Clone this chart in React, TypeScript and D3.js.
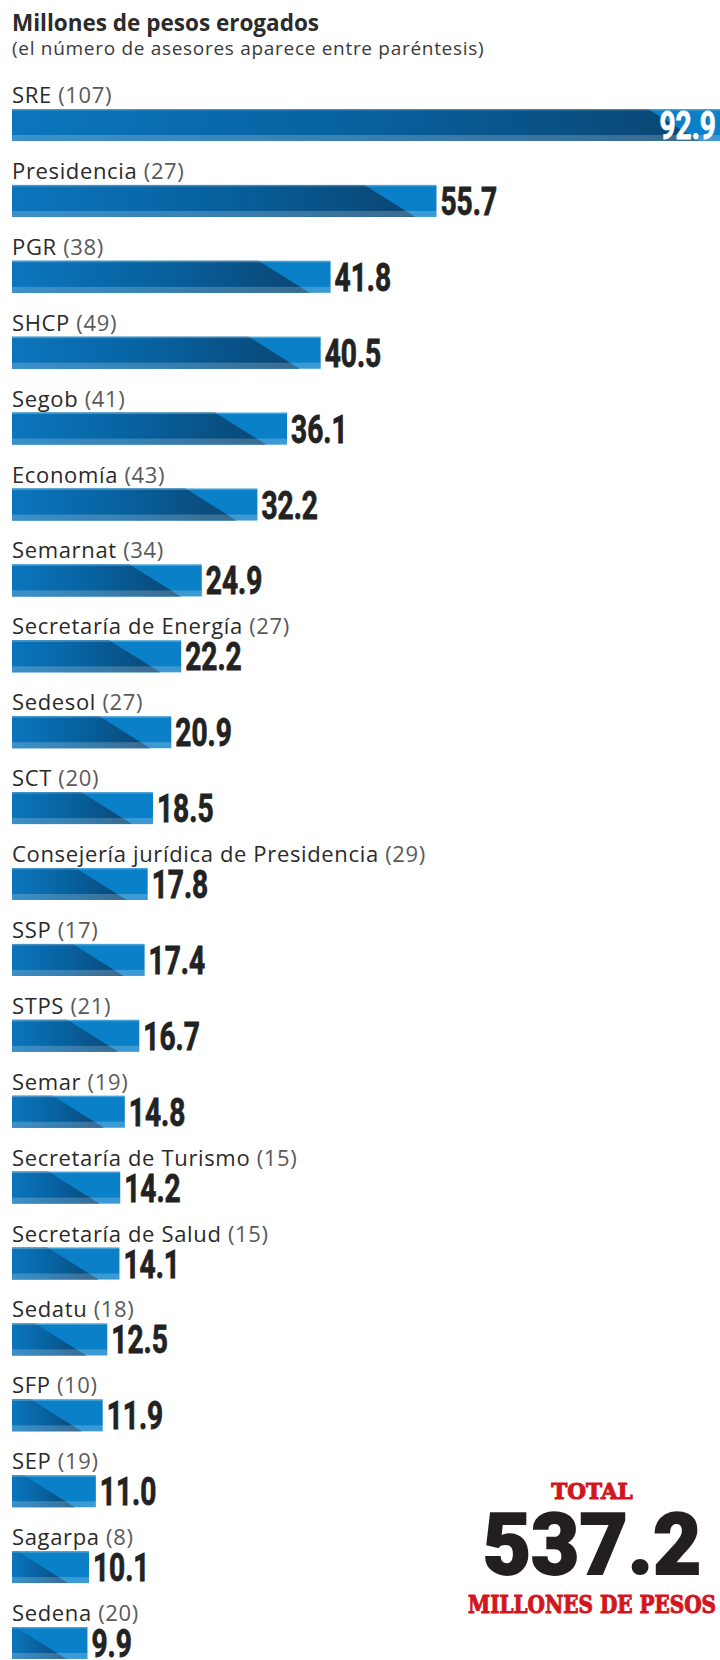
import React, { useLayoutEffect } from "react";
import * as d3 from "d3";

const categories = [
  "SRE", "Presidencia", "PGR", "SHCP", "Segob", "Economía", "Semarnat",
  "Secretaría de Energía", "Sedesol", "SCT", "Consejería jurídica de Presidencia",
  "SSP", "STPS", "Semar", "Secretaría de Turismo", "Secretaría de Salud",
  "Sedatu", "SFP", "SEP", "Sagarpa", "Sedena",
];
const advisors = [107, 27, 38, 49, 41, 43, 34, 27, 27, 20, 29, 17, 21, 19, 15, 15, 18, 10, 19, 8, 20];
const amounts = [92.9, 55.7, 41.8, 40.5, 36.1, 32.2, 24.9, 22.2, 20.9, 18.5, 17.8, 17.4, 16.7, 14.8, 14.2, 14.1, 12.5, 11.9, 11.0, 10.1, 9.9];

const title = "Millones de pesos erogados";
const subtitle = "(el número de asesores aparece entre paréntesis)";
const totalLabel = "TOTAL";
const totalValue = "537.2";
const totalUnit = "MILLONES DE PESOS";

const W = 720;
const H = 1660;
const X0 = 12;
const BAR_H = 32;
const TOP = 109;
const STEP = 75.9;

export default function App() {
  useLayoutEffect(() => {
    document.body.style.margin = "0";
  }, []);

  const x = d3.scaleLinear().domain([0, d3.max(amounts) as number]).range([X0, W]);
  const y = d3
    .scaleBand<string>()
    .domain(categories)
    .range([TOP, TOP + STEP * categories.length])
    .padding(0);

  const labelFont = "'Open Sans', 'DejaVu Sans', sans-serif";
  const numFont = "Roboto, 'Liberation Sans', sans-serif";
  const slabFont = "'DejaVu Serif', serif";

  return (
    <svg width={W} height={H} viewBox={`0 0 ${W} ${H}`} style={{ display: "block", background: "#fff" }}>
      <defs>
        <linearGradient id="dark" x1="0" x2="1" y1="0" y2="0">
          <stop offset="0" stopColor="#0b76bd" />
          <stop offset="0.5" stopColor="#07619f" />
          <stop offset="1" stopColor="#0a4673" />
        </linearGradient>
      </defs>
      <text x={X0} y={31} fontFamily={labelFont} fontWeight={700} fontSize={22.5} fill="#2b2b2b">
        {title}
      </text>
      <text x={X0} y={55} fontFamily={labelFont} fontSize={19} letterSpacing={0.7} fill="#3a3a3a">
        {subtitle}
      </text>

      {categories.map((c, i) => {
        const top = y(c) as number;
        const end = x(amounts[i]);
        const bottom = top + BAR_H;
        const xt = Math.max(X0, end - 72);
        const xb = Math.max(X0 + 20, end - 21);
        const inside = i === 0;
        return (
          <g key={c}>
            <text x={X0} y={top - 6} fontFamily={labelFont} fontSize={22} letterSpacing={0.65}>
              <tspan fill="#2a2a2a">{c}</tspan>
              <tspan fill="#5a5a5a">{` (${advisors[i]})`}</tspan>
            </text>
            <rect x={X0} y={top} width={end - X0} height={BAR_H} fill="#0a80c8" />
            <path
              d={`M${X0},${top}L${xt},${top}L${xb},${bottom}L${X0},${bottom}Z`}
              fill="url(#dark)"
            />
            <rect x={X0} y={bottom - 6} width={end - X0} height={6} fill="#ffffff" opacity={0.2} />
            <rect x={X0} y={top} width={end - X0} height={1.5} fill="#ffffff" opacity={0.25} />
            <g transform={`translate(${inside ? end - 4 : end + 4},${bottom - 2}) scale(0.74,1)`}>
              <text
                x={0}
                y={0}
                textAnchor={inside ? "end" : "start"}
                fontFamily={numFont}
                fontWeight={700}
                fontSize={38}
                stroke={inside ? "#ffffff" : "#222222"}
                strokeWidth={0.8}
                fill={inside ? "#ffffff" : "#222222"}
              >
                {amounts[i].toFixed(1)}
              </text>
            </g>
          </g>
        );
      })}

      <g transform="translate(592,1499) scale(0.98,1)">
        <text textAnchor="middle" fontFamily={slabFont} fontWeight={700} fontSize={22}
          stroke="#d3161e" strokeWidth={1.1} fill="#d3161e">
          {totalLabel}
        </text>
      </g>
      <g transform="translate(592,1574) scale(0.97,1)">
        <text textAnchor="middle" fontFamily={numFont} fontWeight={900} fontSize={86}
          stroke="#231f20" strokeWidth={1.8} fill="#231f20">
          {totalValue}
        </text>
      </g>
      <g transform="translate(592,1613) scale(0.8,1)">
        <text textAnchor="middle" fontFamily={slabFont} fontWeight={700} fontSize={25}
          stroke="#d3161e" strokeWidth={1.1} fill="#d3161e">
          {totalUnit}
        </text>
      </g>
    </svg>
  );
}
